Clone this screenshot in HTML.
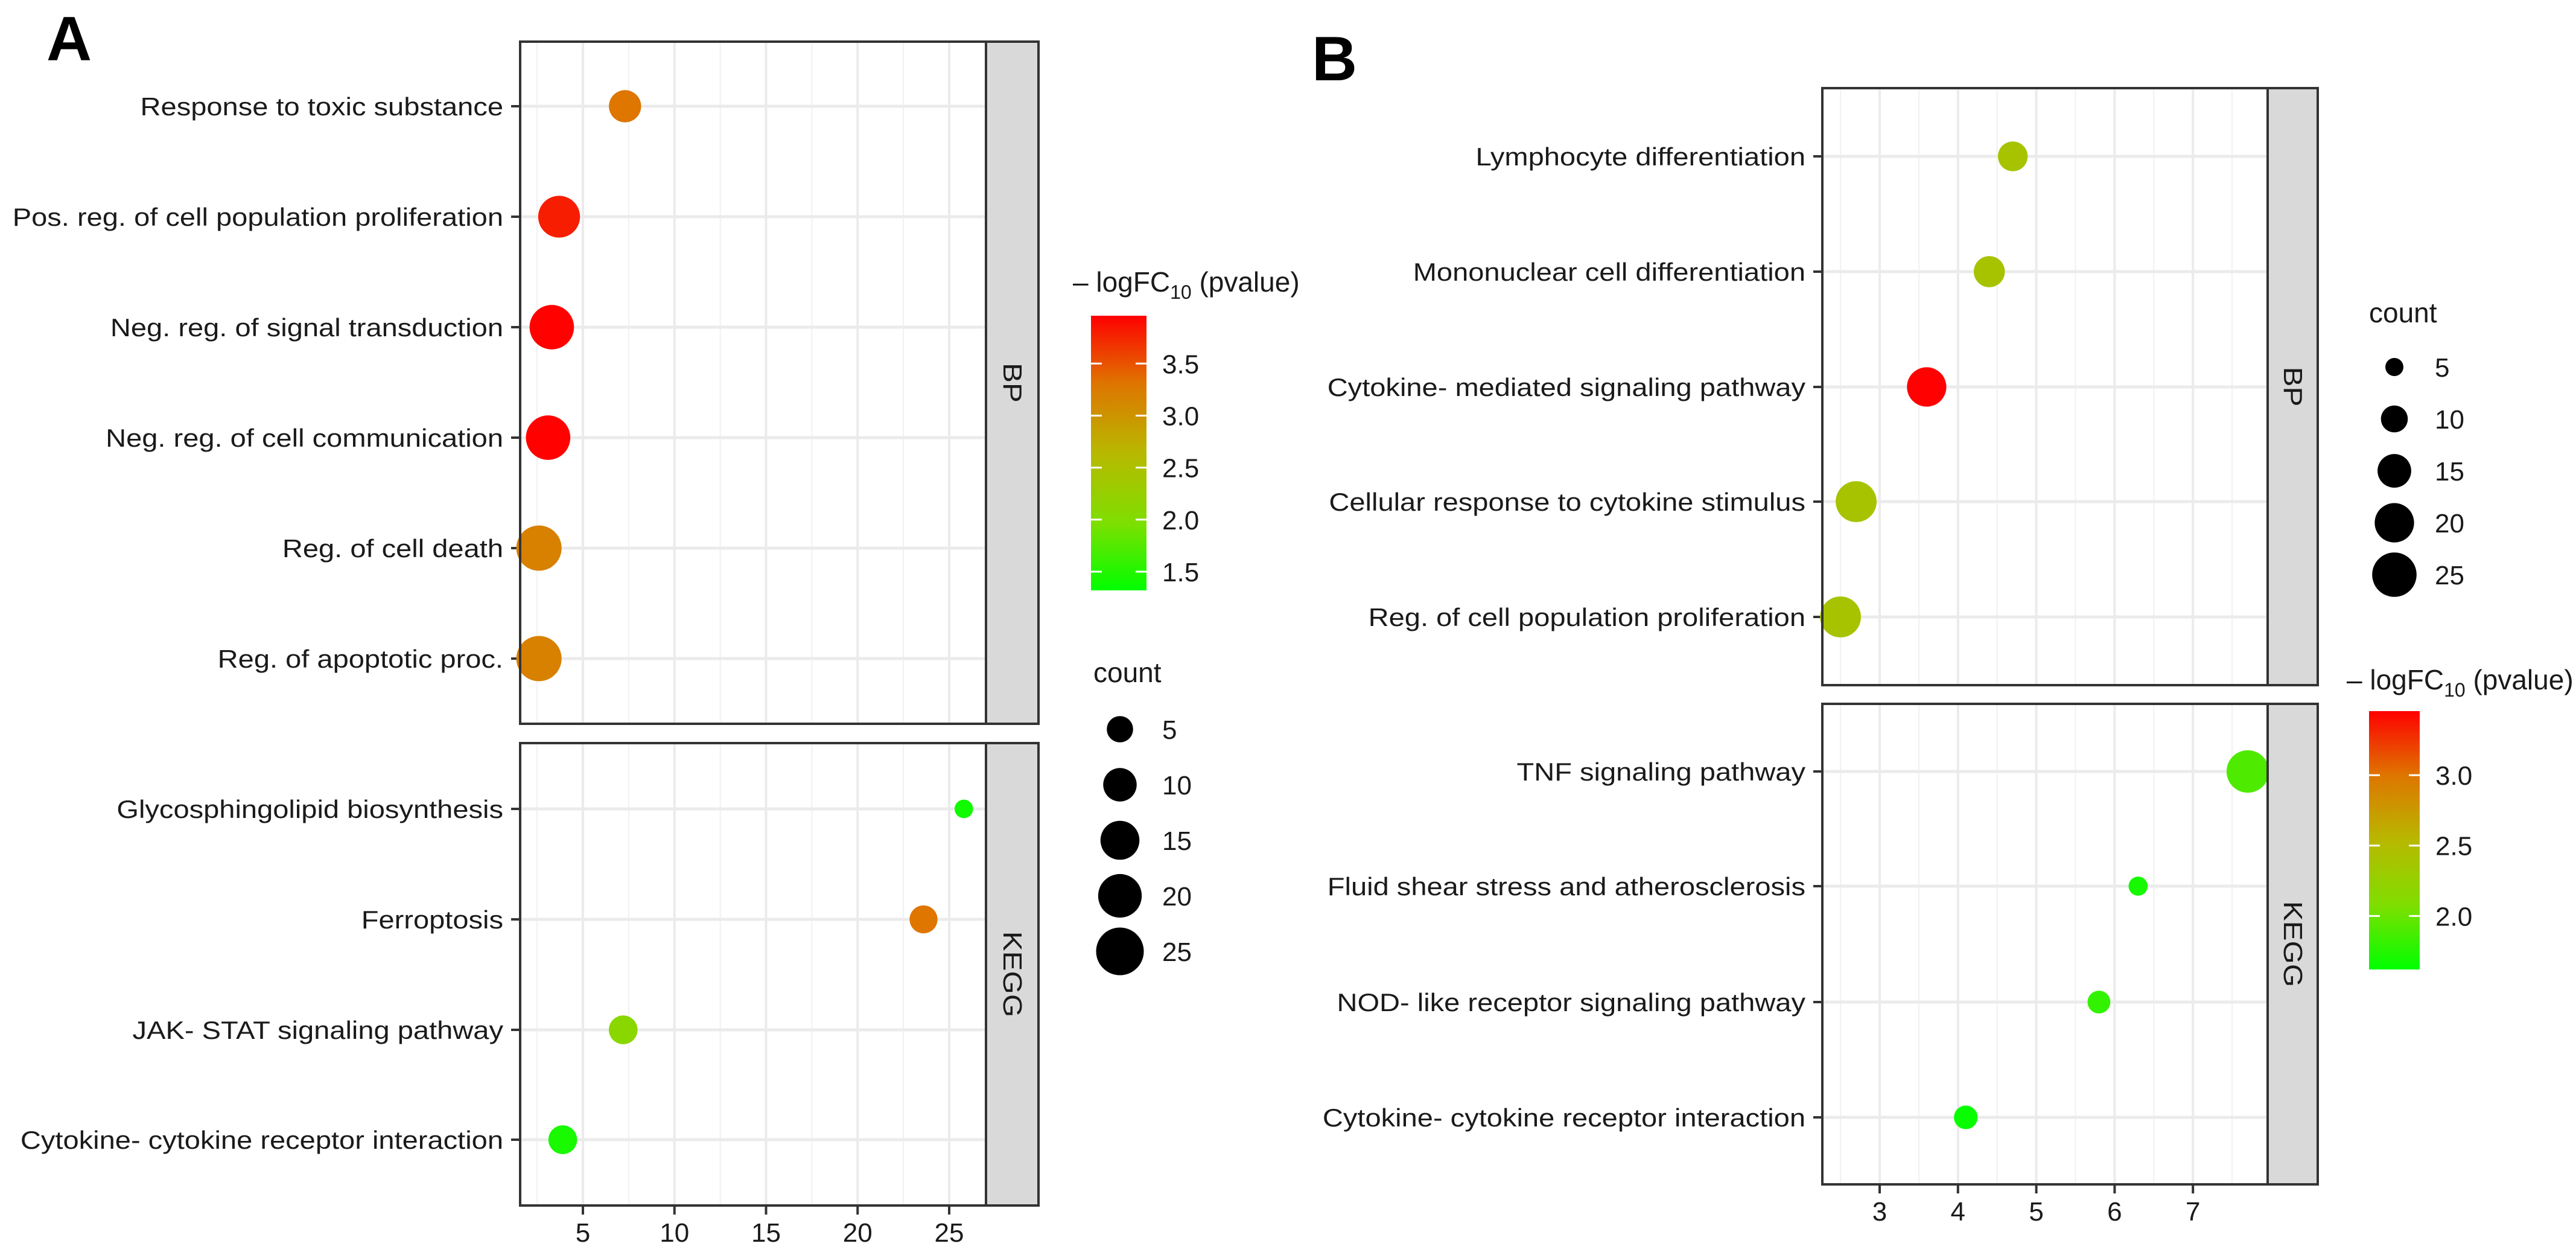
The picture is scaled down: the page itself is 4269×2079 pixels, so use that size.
<!DOCTYPE html>
<html><head><meta charset="utf-8"><style>
html,body{margin:0;padding:0;background:#fff;}
svg{display:block;font-family:"Liberation Sans",sans-serif;}
</style></head><body>
<svg id="chart" width="4269" height="2079" viewBox="0 0 4269 2079" xmlns="http://www.w3.org/2000/svg">
<text x="77" y="100" font-size="104" font-weight="bold" fill="#000">A</text>
<text x="2174" y="133" font-size="104" font-weight="bold" fill="#000">B</text>
</svg>
<script>
// ---------- Panel A data ----------
const aBPTerms = ["Response to toxic substance","Pos. reg. of cell population proliferation","Neg. reg. of signal transduction","Neg. reg. of cell communication","Reg. of cell death","Reg. of apoptotic proc."];
const aBPX = [7.3, 3.7, 3.3, 3.1, 2.6, 2.6];
const aBPCount = [9, 18, 21, 21, 22, 22];
const aBPColor = [3.3, 3.8, 3.95, 3.95, 3.2, 3.2];
const aKEGGTerms = ["Glycosphingolipid biosynthesis","Ferroptosis","JAK- STAT signaling pathway","Cytokine- cytokine receptor interaction"];
const aKEGGX = [25.8, 23.6, 7.2, 3.9];
const aKEGGCount = [1.5, 6, 6.5, 6.5];
const aKEGGColor = [1.4, 3.3, 2.1, 1.45];
const aXTicks = [5, 10, 15, 20, 25];
const aColorTicks = [1.5, 2.0, 2.5, 3.0, 3.5];
const aSizeTicks = [5, 10, 15, 20, 25];
// ---------- Panel B data ----------
const bBPTerms = ["Lymphocyte differentiation","Mononuclear cell differentiation","Cytokine- mediated signaling pathway","Cellular response to cytokine stimulus","Reg. of cell population proliferation"];
const bBPX = [4.7, 4.4, 3.6, 2.7, 2.5];
const bBPCount = [12, 13, 20, 21.5, 21.5];
const bBPColor = [2.4, 2.4, 3.45, 2.4, 2.4];
const bKEGGTerms = ["TNF signaling pathway","Fluid shear stress and atherosclerosis","NOD- like receptor signaling pathway","Cytokine- cytokine receptor interaction"];
const bKEGGX = [7.7, 6.3, 5.8, 4.1];
const bKEGGCount = [23, 5.5, 7.5, 8];
const bKEGGColor = [1.9, 1.7, 1.8, 1.65];
const bXTicks = [3, 4, 5, 6, 7];
const bColorTicks = [2.0, 2.5, 3.0];
const bSizeTicks = [5, 10, 15, 20, 25];

const NS = "http://www.w3.org/2000/svg";
const svg = document.getElementById("chart");
const WIDEN = 1.12;
function mk(tag, attrs, parent){
  const e = document.createElementNS(NS, tag);
  for (const k in attrs) e.setAttribute(k, attrs[k]);
  (parent||svg).appendChild(e);
  return e;
}
function widen(t){
  const w = t.getComputedTextLength();
  if (w > 0){ t.setAttribute("textLength", w*WIDEN); t.setAttribute("lengthAdjust", "spacingAndGlyphs"); }
}
const stops = [[0,[0,255,0]],[0.25,[128,222,0]],[0.5,[184,184,0]],[0.75,[222,118,0]],[1,[255,0,0]]];
function grad(t){
  t = Math.max(0, Math.min(1, t));
  for (let i=1;i<stops.length;i++){
    if (t <= stops[i][0]){
      const a = stops[i-1], b = stops[i], u = (t-a[0])/(b[0]-a[0]);
      const c = a[1].map((v,j)=>Math.round(v+(b[1][j]-v)*u));
      return "rgb("+c.join(",")+")";
    }
  }
  return "rgb(255,0,0)";
}

function panel(cfg){
  const g = mk("g", {});
  
  
  const xs = v => cfg.x0 + (v - cfg.v0) * cfg.ppu;
  const col = v => grad((v - cfg.cmin) / (cfg.cmax - cfg.cmin));
  const rad = c => cfg.ra * Math.sqrt(c) + cfg.rb;
  const facets = [
    {terms: cfg.bpTerms, xv: cfg.bpX, cnt: cfg.bpCount, cv: cfg.bpColor, top: cfg.bpTop, bot: cfg.bpBot, rows: cfg.bpRows, strip: "BP"},
    {terms: cfg.kgTerms, xv: cfg.kgX, cnt: cfg.kgCount, cv: cfg.kgColor, top: cfg.kgTop, bot: cfg.kgBot, rows: cfg.kgRows, strip: "KEGG"}
  ];
  const vmin = cfg.v0 + (cfg.left - cfg.x0)/cfg.ppu, vmax = cfg.v0 + (cfg.div - cfg.x0)/cfg.ppu;
  facets.forEach((f, fi) => {
    const fg = mk("g", {}, g);
    
    
    mk("rect", {x: cfg.left, y: f.top, width: cfg.div - cfg.left, height: f.bot - f.top, fill: "#fff"}, fg);
    for (let v = Math.ceil(vmin/cfg.minorStep)*cfg.minorStep; v < vmax; v += cfg.minorStep){
      if (cfg.ticks.some(t => Math.abs(t - v) < 1e-6)) continue;
      const l = mk("line", {x1: xs(v), x2: xs(v), y1: f.top, y2: f.bot, stroke: "#f1f1f1", "stroke-width": 2}, fg);
      
      
    }
    cfg.ticks.forEach(t => {
      const l = mk("line", {x1: xs(t), x2: xs(t), y1: f.top, y2: f.bot, stroke: "#ebebeb", "stroke-width": 4}, fg);
      
      
    });
    f.terms.forEach((term, i) => {
      const y = f.rows[i];
      const l = mk("line", {x1: cfg.left, x2: cfg.div, y1: y, y2: y, stroke: "#ebebeb", "stroke-width": 5}, fg);
      
      
      const tk = mk("line", {x1: cfg.left - 15, x2: cfg.left, y1: y, y2: y, stroke: "#333", "stroke-width": 4}, fg);
      
      
      const tx = mk("text", {x: cfg.left - 28, y: y + 15, "text-anchor": "end", "font-size": 42, fill: "#1a1a1a"}, fg);
      tx.textContent = term;
      
      
      widen(tx);
    });
    f.terms.forEach((term, i) => {
      const c = mk("circle", {cx: xs(f.xv[i]), cy: f.rows[i], r: rad(f.cnt[i]), fill: col(f.cv[i])}, fg);
      
      
    });
    mk("rect", {x: cfg.left, y: f.top, width: cfg.div - cfg.left, height: f.bot - f.top, fill: "none", stroke: "#333", "stroke-width": 4}, fg);
    const st = mk("rect", {x: cfg.div, y: f.top, width: cfg.stripR - cfg.div, height: f.bot - f.top, fill: "#d9d9d9", stroke: "#333", "stroke-width": 4}, fg);
    
    
    const sx = (cfg.div + cfg.stripR)/2, sy = (f.top + f.bot)/2;
    const stt = mk("text", {x: sx, y: sy, "text-anchor": "middle", "dominant-baseline": "central", "font-size": 44, fill: "#1a1a1a", transform: "rotate(90 " + sx + " " + sy + ")"}, fg);
    stt.textContent = f.strip;
    
    
    widen(stt);
  });
  const bot = cfg.kgBot;
  cfg.ticks.forEach(t => {
    const l = mk("line", {x1: xs(t), x2: xs(t), y1: bot, y2: bot + 15, stroke: "#333", "stroke-width": 4}, g);
    
    
    const tx = mk("text", {x: xs(t), y: bot + 60, "text-anchor": "middle", "font-size": 44, fill: "#1a1a1a"}, g);
    tx.textContent = String(t);
    
    
  });
  const cl = mk("g", {}, g);
  
  
  const ct = mk("text", {x: cfg.cTitleX, y: cfg.cTitleY, "font-size": 46, fill: "#1a1a1a"}, cl);
  ct.innerHTML = '\u2013 logFC<tspan font-size="32" dy="12">10</tspan><tspan dy="-12"> (pvalue)</tspan>';
  
  
  const gid = cfg.name + "-grad";
  const defs = mk("defs", {}, cl);
  const lg = mk("linearGradient", {id: gid, x1: 0, y1: 1, x2: 0, y2: 0}, defs);
  for (let k = 0; k <= 20; k++) mk("stop", {offset: k/20, "stop-color": grad(k/20)}, lg);
  const cbar = mk("rect", {x: cfg.cbX, y: cfg.cbTop, width: cfg.cbW, height: cfg.cbBot - cfg.cbTop, fill: "url(#" + gid + ")"}, cl);
  
  
  const cy = v => cfg.cbBot - (v - cfg.cmin)/(cfg.cmax - cfg.cmin) * (cfg.cbBot - cfg.cbTop);
  cfg.cTicks.forEach(v => {
    mk("line", {x1: cfg.cbX, x2: cfg.cbX + 18, y1: cy(v), y2: cy(v), stroke: "#fff", "stroke-width": 3}, cl);
    mk("line", {x1: cfg.cbX + cfg.cbW - 18, x2: cfg.cbX + cfg.cbW, y1: cy(v), y2: cy(v), stroke: "#fff", "stroke-width": 3}, cl);
    const t = mk("text", {x: cfg.cbX + cfg.cbW + 26, y: cy(v) + 16, "font-size": 44, fill: "#1a1a1a"}, cl);
    t.textContent = v.toFixed(1);
    
    
  });
  const sl = mk("g", {}, g);
  
  
  const stl = mk("text", {x: cfg.sTitleX, y: cfg.sTitleY, "font-size": 46, fill: "#1a1a1a"}, sl);
  stl.textContent = "count";
  
  
  cfg.sTicks.forEach((v, i) => {
    const y = cfg.sY0 + i * cfg.sStep;
    const c = mk("circle", {cx: cfg.sCX, cy: y, r: rad(v), fill: "#000"}, sl);
    
    
    const t = mk("text", {x: cfg.sLX, y: y + 16, "font-size": 44, fill: "#1a1a1a"}, sl);
    t.textContent = String(v);
    
    
  });
}

panel({name: "panel-a", x0: 966, v0: 5, ppu: 30.35, left: 862, div: 1634, stripR: 1721, minorStep: 2.5, ticks: aXTicks,
  bpTerms: aBPTerms, bpX: aBPX, bpCount: aBPCount, bpColor: aBPColor, bpTop: 69, bpBot: 1199, bpRows: [176,359,542,725,908,1091],
  kgTerms: aKEGGTerms, kgX: aKEGGX, kgCount: aKEGGCount, kgColor: aKEGGColor, kgTop: 1231, kgBot: 1997, kgRows: [1340,1523,1706,1888],
  cmin: 1.32, cmax: 3.96, ra: 6.4, rb: 7.5,
  cTitleX: 1778, cTitleY: 483, cbX: 1808, cbW: 92, cbTop: 523, cbBot: 978, cTicks: aColorTicks,
  sTitleX: 1812, sTitleY: 1130, sCX: 1856, sY0: 1208, sStep: 92, sLX: 1926, sTicks: aSizeTicks});

panel({name: "panel-b", x0: 3115, v0: 3, ppu: 129.8, left: 3020, div: 3758, stripR: 3841, minorStep: 0.5, ticks: bXTicks,
  bpTerms: bBPTerms, bpX: bBPX, bpCount: bBPCount, bpColor: bBPColor, bpTop: 146, bpBot: 1135, bpRows: [259,450,641,831,1022],
  kgTerms: bKEGGTerms, kgX: bKEGGX, kgCount: bKEGGCount, kgColor: bKEGGColor, kgTop: 1166, kgBot: 1962, kgRows: [1278,1468,1660,1851],
  cmin: 1.62, cmax: 3.455, ra: 7.9, rb: -2.7,
  cTitleX: 3889, cTitleY: 1142, cbX: 3926, cbW: 84, cbTop: 1178, cbBot: 1606, cTicks: bColorTicks,
  sTitleX: 3926, sTitleY: 534, sCX: 3968, sY0: 608, sStep: 86, sLX: 4035, sTicks: bSizeTicks});
</script>
</body></html>
